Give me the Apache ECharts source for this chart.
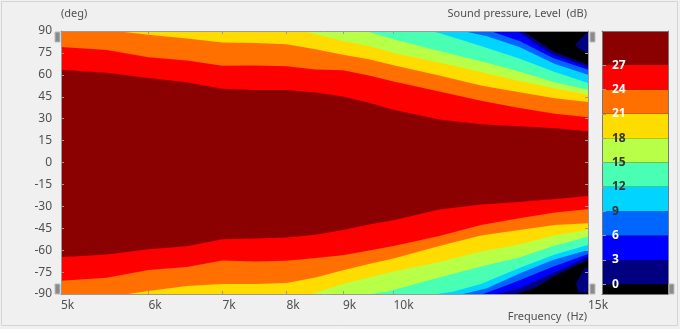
<!DOCTYPE html>
<html><head><meta charset="utf-8">
<script src="https://cdn.jsdelivr.net/npm/echarts@6/dist/echarts.min.js"></script>
<style>html,body{margin:0;padding:0;background:#f0f0f0}#c{width:680px;height:329px}</style>
</head><body><div id="c"></div>
<script>
const freqTicks = [5000, 6000, 7000, 8000, 9000, 10000, 15000];
const freqTickLabels = ['5k', '6k', '7k', '8k', '9k', '10k', '15k'];
const levels = [0, 3, 6, 9, 12, 15, 18, 21, 24, 27];
const bandColors = ['#000000', '#000080', '#0000ff', '#0066ff', '#00d4ff', '#48ffb4', '#b8ff48', '#ffdc00', '#ff7000', '#ff0000', '#8b0000'];
const levelLabelColors = ['#ffffff', '#ffffff', '#ffffff', '#333333', '#333333', '#333333', '#333333', '#ffffff', '#ffffff', '#ffffff'];

// upper contour boundaries: [frequency Hz, angle deg] (level reached below this line)
const up0 = [[5000, 90], [13100, 90], [13940, 76.1], [15000, 66.9]];
const up3 = [[5000, 90], [12940, 90], [13490, 80.6], [13940, 73.8], [15000, 65.2]];
const up6 = [[5000, 90], [12230, 90], [13020, 83.0], [13940, 71.5], [15000, 63.5]];
const up9 = [[5000, 90], [11560, 90], [12150, 86.4], [13000, 79.0], [14000, 67.4], [15000, 60.1]];
const up12 = [[5000, 90], [10790, 90], [11000, 88.6], [11320, 85.7], [12000, 79.7], [13000, 71.2], [14000, 61.9], [15000, 54.4]];
const up15 = [[5000, 90], [9380, 90], [9500, 89.3], [10000, 84.4], [11000, 76.3], [12000, 69.3], [13000, 62.3], [14000, 54.8], [15000, 49.8]];
const up18 = [[5000, 90], [8300, 90], [8500, 87.8], [9000, 83.2], [9500, 79.7], [10000, 74.9], [11000, 68.4], [12000, 61.9], [13000, 55.8], [14000, 50.6], [15000, 46.4]];
const up21 = [[5000, 90], [5600, 90], [6000, 87.5], [6500, 84.9], [7000, 82.1], [7500, 81.8], [8000, 81.0], [8500, 77.5], [9000, 73.8], [9500, 70.6], [10000, 66.5], [11000, 59.5], [12000, 52.7], [13000, 48.0], [14000, 43.9], [15000, 41.4]];
const up24 = [[5000, 79.0], [5500, 77.0], [6000, 72.0], [6500, 69.8], [7000, 66.2], [7500, 66.4], [8000, 65.8], [8500, 63.7], [9000, 63.1], [9500, 59.5], [10000, 55.4], [11000, 48.6], [12000, 42.3], [13000, 37.3], [14000, 33.4], [15000, 30.9]];
const up27 = [[5000, 63.5], [5500, 61.5], [6000, 57.8], [6500, 55.0], [7000, 50.5], [7500, 49.6], [8000, 49.6], [8500, 47.9], [9000, 45.2], [9500, 40.9], [10000, 36.1], [11000, 29.4], [12000, 26.1], [13000, 24.8], [14000, 23.5], [15000, 21.4]];

// lower contour boundaries: [frequency Hz, angle deg] (level reached above this line)
const lo0 = [[5000, -90], [12940, -90], [13490, -85.0], [13940, -78.2], [15000, -66.7]];
const lo3 = [[5000, -90], [12410, -90], [13020, -86.1], [13940, -75.8], [15000, -64.5]];
const lo6 = [[5000, -90], [12050, -90], [12560, -85.0], [13020, -80.4], [13940, -71.3], [15000, -62.6]];
const lo9 = [[5000, -90], [11560, -90], [12150, -86.1], [13020, -75.8], [13940, -66.7], [15000, -59.9]];
const lo12 = [[5000, -90], [10950, -90], [11320, -88.4], [12000, -83.2], [13000, -72.2], [14000, -63.0], [15000, -56.5]];
const lo15 = [[5000, -90], [9520, -90], [9870, -88.4], [10000, -87.3], [11000, -78.7], [12000, -71.2], [13000, -65.0], [14000, -56.8], [15000, -50.8]];
const lo18 = [[5000, -90], [8440, -90], [8500, -89.3], [9000, -83.2], [9500, -78.7], [10000, -74.6], [11000, -68.1], [12000, -60.9], [13000, -56.1], [14000, -49.8], [15000, -46.2]];
const lo21 = [[5000, -90], [5750, -90], [6000, -87.9], [6500, -84.5], [7000, -83.2], [7500, -83.2], [8000, -82.5], [8500, -78.7], [9000, -73.7], [9500, -69.5], [10000, -65.7], [11000, -57.1], [12000, -50.0], [13000, -46.2], [14000, -42.8], [15000, -41.6]];
const lo24 = [[5000, -80.9], [5500, -78.8], [6000, -73.6], [6500, -71.5], [7000, -67.1], [7500, -67.8], [8000, -67.2], [8500, -65.4], [9000, -63.4], [9500, -60.2], [10000, -57.1], [11000, -50.3], [12000, -42.8], [13000, -38.2], [14000, -34.2], [15000, -32.0]];
const lo27 = [[5000, -64.9], [5500, -63.0], [6000, -59.4], [6500, -57.4], [7000, -52.6], [7500, -52.0], [8000, -51.3], [8500, -49.4], [9000, -46.2], [9500, -42.4], [10000, -39.6], [11000, -32.2], [12000, -28.7], [13000, -27.0], [14000, -25.0], [15000, -22.9]];

// small 0..3 dB islands inside the black corners
const islandTop = [[14600, 80.4], [14950, 88.6], [15000, 88.6], [15000, 74.9], [14800, 77.0]];
const islandBottom = [[14880, -72.5], [15000, -72.0], [15000, -89.0], [14700, -89.0], [14630, -83.0]];

const upper = [up0, up3, up6, up9, up12, up15, up18, up21, up24, up27];
const lower = [lo0, lo3, lo6, lo9, lo12, lo15, lo18, lo21, lo24, lo27];
const cbMin = -1.2, cbMax = 31.2;

const FONT = 'Noto Sans';
const TXT = '#505050';
const AX = '#9a9a9a';

function area(data, color) {
  return {
    type: 'line', xAxisIndex: 0, yAxisIndex: 0, data: data, symbol: 'none', silent: true,
    lineStyle: { width: 0 }, areaStyle: { color: color, opacity: 1, origin: 'start' },
    animation: false, z: 2
  };
}
const series = [];
upper.forEach((d, i) => series.push(area(d, bandColors[i + 1])));
for (let i = lower.length - 1; i >= 0; i--) series.push(area(lower[i], bandColors[i]));

[islandTop, islandBottom].forEach(poly => series.push({
  type: 'custom', xAxisIndex: 0, yAxisIndex: 0, data: [0], silent: true, animation: false, z: 3,
  clip: true,
  renderItem: (params, api) => ({
    type: 'polygon',
    shape: { points: poly.map(p => api.coord(p)) },
    style: { fill: bandColors[1] }
  })
}));

// colour bar bands
const cbBands = [cbMin];
for (let i = 1; i < levels.length; i++) cbBands.push(levels[i] - levels[i - 1]);
cbBands.push(cbMax - levels[levels.length - 1]);
cbBands.forEach((v, i) => series.push({
  type: 'bar', xAxisIndex: 2, yAxisIndex: 2, stack: 'cb', data: [v], barWidth: '100%',
  itemStyle: { color: bandColors[i], borderWidth: 0 }, silent: true, animation: false, z: 2
}));

function nearestLabel(v) {
  let best = 0;
  freqTicks.forEach((t, i) => { if (Math.abs(t - v) < Math.abs(freqTicks[best] - v)) best = i; });
  return freqTickLabels[best];
}

const tick = (len, custom) => {
  const t = { show: true, inside: true, length: len, lineStyle: { color: AX } };
  if (custom) t.customValues = custom;
  return t;
};

const chart = echarts.init(document.getElementById('c'), null, { renderer: 'canvas' });
chart.setOption({
  backgroundColor: '#f0f0f0',
  textStyle: { fontFamily: FONT },
  grid: [
    { left: 61, top: 31, width: 527, height: 263, show: true, backgroundColor: '#000', borderWidth: 0 },
    { left: 602, top: 31, width: 66, height: 263, show: true, backgroundColor: '#000', borderWidth: 0 }
  ],
  xAxis: [
    { type: 'log', logBase: 10, min: 5000, max: 15000, gridIndex: 0, position: 'bottom', z: 10,
      axisLine: { show: true, onZero: false, lineStyle: { color: AX } }, splitLine: { show: false },
      axisTick: tick(3, freqTicks),
      axisLabel: { show: true, customValues: freqTicks, formatter: nearestLabel, align: 'left', margin: 6,
        color: TXT, fontSize: 12, fontFamily: FONT } },
    { type: 'log', logBase: 10, min: 5000, max: 15000, gridIndex: 0, position: 'top', z: 10,
      axisLine: { show: true, onZero: false, lineStyle: { color: AX } }, splitLine: { show: false },
      axisTick: tick(3, freqTicks),
      axisLabel: { show: false } },
    { type: 'category', data: ['cb'], gridIndex: 1, position: 'bottom', z: 10,
      axisLine: { show: true, onZero: false, lineStyle: { color: '#777' } }, axisTick: { show: false }, axisLabel: { show: false } },
    { type: 'category', data: ['cb'], gridIndex: 1, position: 'top', z: 10,
      axisLine: { show: true, onZero: false, lineStyle: { color: '#777' } }, axisTick: { show: false }, axisLabel: { show: false } }
  ],
  yAxis: [
    { type: 'value', min: -90, max: 90, interval: 15, gridIndex: 0, position: 'left', z: 10,
      axisLine: { show: true, onZero: false, lineStyle: { color: AX } }, splitLine: { show: false },
      axisTick: tick(3),
      axisLabel: { color: TXT, fontSize: 12, margin: 9, fontFamily: FONT } },
    { type: 'value', min: -90, max: 90, interval: 15, gridIndex: 0, position: 'right', z: 10,
      axisLine: { show: true, onZero: false, lineStyle: { color: AX } }, splitLine: { show: false },
      axisTick: tick(3),
      axisLabel: { show: false } },
    { type: 'value', min: cbMin, max: cbMax, gridIndex: 1, position: 'left', z: 10,
      axisLine: { show: true, onZero: false, lineStyle: { color: '#777' } }, splitLine: { show: false },
      axisTick: tick(4, levels),
      axisLabel: { show: true, inside: true, margin: 10, customValues: levels, fontSize: 12, fontWeight: 'bold',
        fontFamily: FONT, color: (v) => levelLabelColors[levels.indexOf(Math.round(Number(v)))] || '#fff' } },
    { type: 'value', min: cbMin, max: cbMax, gridIndex: 1, position: 'right', z: 10,
      axisLine: { show: true, onZero: false, lineStyle: { color: '#777' } }, splitLine: { show: false },
      axisTick: { show: false }, axisLabel: { show: false } }
  ],
  series: series,
  graphic: [
    { type: 'rect', shape: { x: 1.5, y: 1.5, width: 676, height: 324 }, style: { fill: null, stroke: '#d4d4d4', lineWidth: 1 }, silent: true },
    { type: 'text', left: 61, top: 8, style: { text: '(deg)', fill: TXT, font: '11px "Noto Sans"' } },
    { type: 'text', right: 93, top: 8, style: { text: 'Sound pressure, Level  (dB)', fill: TXT, font: '11px "Noto Sans"' } },
    { type: 'text', right: 93, top: 311, style: { text: 'Frequency  (Hz)', fill: TXT, font: '11px "Noto Sans"' } },
    { type: 'rect', shape: { x: 55, y: 32, width: 5, height: 10 }, style: { fill: '#8a8a8a', stroke: '#bbb' }, z: 20 },
    { type: 'rect', shape: { x: 55, y: 284, width: 5, height: 10 }, style: { fill: '#8a8a8a', stroke: '#bbb' }, z: 20 },
    { type: 'rect', shape: { x: 590, y: 32, width: 5, height: 10 }, style: { fill: '#8a8a8a', stroke: '#bbb' }, z: 20 },
    { type: 'rect', shape: { x: 590, y: 284, width: 5, height: 10 }, style: { fill: '#8a8a8a', stroke: '#bbb' }, z: 20 },
    { type: 'rect', shape: { x: 669, y: 284, width: 5, height: 10 }, style: { fill: '#8a8a8a', stroke: '#bbb' }, z: 20 }
  ]
});
</script></body></html>
